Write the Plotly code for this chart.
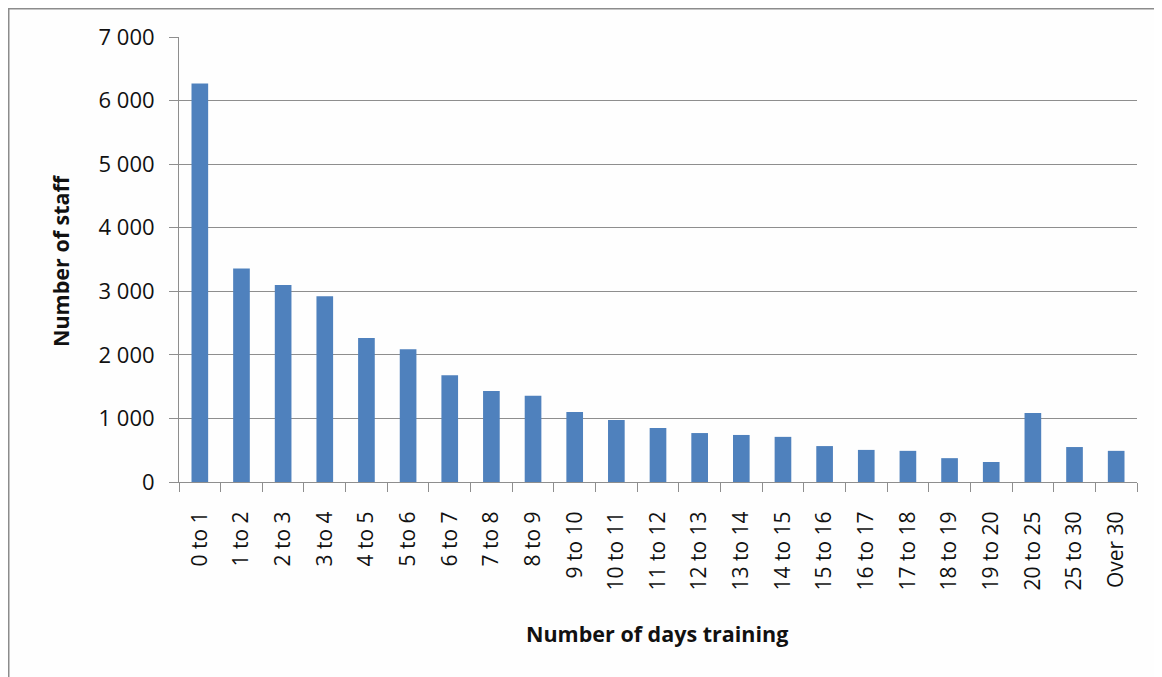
import plotly.graph_objects as go

categories = ["0 to 1", "1 to 2", "2 to 3", "3 to 4", "4 to 5", "5 to 6", "6 to 7",
              "7 to 8", "8 to 9", "9 to 10", "10 to 11", "11 to 12", "12 to 13",
              "13 to 14", "14 to 15", "15 to 16", "16 to 17", "17 to 18", "18 to 19",
              "19 to 20", "20 to 25", "25 to 30", "Over 30"]
staff = [6270, 3360, 3100, 2920, 2265, 2090, 1680, 1430, 1355, 1100, 975, 850, 770,
         740, 710, 565, 505, 490, 375, 315, 1085, 550, 490]
y_ticks = [0, 1000, 2000, 3000, 4000, 5000, 6000, 7000]

# page body has an 8px margin, so the figure is drawn 8px in from the window edge
OFF = 8
W, H = 1162 - OFF, 677 - OFF
L, R, T, B = 179 - OFF, 25, 37 - OFF, 195
pw, ph = W - L - R, H - T - B

FONT = "Open Sans"
TXT = "#111111"
GRID = "#8e8e8e"

fig = go.Figure(go.Bar(
    x=categories, y=staff,
    marker=dict(color="#4F81BD", line=dict(width=0)),
))

fig.update_layout(
    width=W, height=H,
    margin=dict(l=L, r=R, t=T, b=B, pad=0),
    paper_bgcolor="#FEFEFE", plot_bgcolor="#FEFEFE",
    bargap=0.6,
    separators=". ",
    showlegend=False,
    font=dict(family=FONT, color=TXT, size=20),
)
fig.update_xaxes(
    type="category", tickangle=-90, tickson="boundaries",
    ticks="outside", ticklen=9, tickcolor=GRID, tickwidth=1,
    showline=True, linecolor=GRID, linewidth=1,
    showgrid=False, tickfont=dict(family=FONT, size=21, color=TXT),
    ticklabelstandoff=20,
)
fig.update_yaxes(
    range=[0, 7000], tickvals=y_ticks, tickformat=",d",
    ticks="outside", ticklen=9, tickcolor=GRID, tickwidth=1,
    showline=True, linecolor=GRID, linewidth=1,
    showgrid=True, gridcolor=GRID, gridwidth=1, zeroline=False,
    tickfont=dict(family=FONT, size=22, color=TXT),
    ticklabelstandoff=10,
)

def px_x(px):
    return (px - OFF - L) / pw

def px_y(py):
    return 1 - (py - OFF - T) / ph

fig.add_annotation(text="<b>Number of days training</b>", xref="paper", yref="paper",
                   x=px_x(657), y=px_y(633), showarrow=False,
                   font=dict(family=FONT, size=21.5, color=TXT),
                   xanchor="center", yanchor="middle")
fig.add_annotation(text="<b>Number of staff</b>", xref="paper", yref="paper",
                   x=px_x(60), y=px_y(261), showarrow=False, textangle=-90,
                   font=dict(family=FONT, size=21.5, color=TXT),
                   xanchor="center", yanchor="middle")

# outer chart frame (left and top edges visible)
fig.add_shape(type="path", xref="paper", yref="paper",
              path=f"M {px_x(8.5)} {px_y(690)} L {px_x(8.5)} {px_y(8.5)} L {px_x(1175)} {px_y(8.5)}",
              line=dict(color="#8c8c8c", width=2))

fig.write_html("out.html")
